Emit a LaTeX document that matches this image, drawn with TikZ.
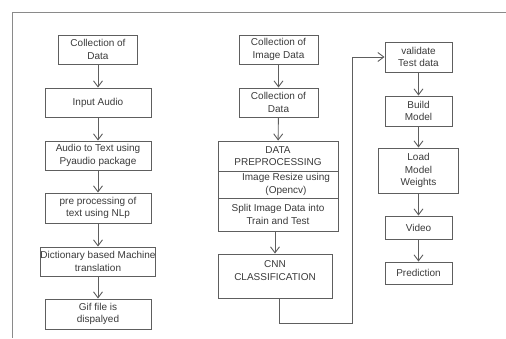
\documentclass[tikz,border=0pt]{standalone}
\usepackage{fontspec}
\setmainfont{Liberation Sans}
\usetikzlibrary{arrows.meta}
\definecolor{linec}{HTML}{5E5E5E}
\definecolor{framec}{HTML}{8A8A8A}
\definecolor{textc}{HTML}{3A3A3A}
\tikzset{
  box/.style={draw=linec, line width=0.9pt, inner sep=0pt, align=center,
    text=textc, font=\fontsize{10}{12.5}\selectfont},
  txt/.style={inner sep=0pt, align=center, text=textc, font=\fontsize{10}{12.5}\selectfont},
  arr/.style={draw=linec, line width=0.9pt, -{Straight Barb[length=6pt,width=9pt]}},
  conn/.style={draw=linec, line width=0.9pt}
}
\begin{document}
\begin{tikzpicture}[x=1pt,y=-1pt]
\useasboundingbox (0,0) rectangle (506,338);
% frame
\coordinate (ftr) at (506,12);
\coordinate (ftl) at (12,12);
\coordinate (fbl) at (12,338);
\draw[draw=framec, line width=0.9pt] (ftr) -- (ftl) -- (fbl);
% column 1
\node[box, minimum width=79pt, minimum height=29pt] (c1a) at (98,49.5) {Collection of\\Data};
\node[box, minimum width=106pt, minimum height=29pt] (c1b) at (98,102.5) {Input Audio};
\node[box, minimum width=106pt, minimum height=29pt] (c1c) at (98,155.5) {Audio to Text using\\Pyaudio package};
\node[box, minimum width=106pt, minimum height=30pt] (c1d) at (98,208) {pre processing of\\text using NLp};
\node[box, minimum width=106pt, minimum height=29pt] (c1e) at (98,261.5) {Dictionary based Machine\\translation};
\node[box, minimum width=106pt, minimum height=30pt] (c1f) at (98,314) {Gif file is\\dispalyed};
\draw[arr] (c1a) -- (c1b);
\draw[arr] (c1b) -- (c1c);
\draw[arr] (c1c) -- (c1d);
\draw[arr] (c1d) -- (c1e);
\draw[arr] (c1e) -- (c1f);
% column 2
\node[box, minimum width=79pt, minimum height=29pt] (c2a) at (278.5,49.5) {Collection of\\Image Data};
\node[box, minimum width=79pt, minimum height=29pt] (c2b) at (278.5,102.5) {Collection of\\Data};
\node[box, minimum width=120pt, minimum height=30pt] (pre) at (278,156) {DATA\\PREPROCESSING};
\node[box, minimum width=120pt, minimum height=27pt] (res) at (278,184.5) {};
\node[txt] (rest) at (286,184.5) {Image Resize using\\(Opencv)};
\node[box, minimum width=120pt, minimum height=33pt] (spl) at (278,214.5) {Split Image Data into\\Train and Test};
\node[box, minimum width=114pt, minimum height=44pt] (cnn) at (275,276) {};
\node[txt] (cnnt) at (275,270.5) {CNN\\CLASSIFICATION};
\draw[arr] (c2a) -- (c2b);
\draw[arr] (c2b) -- (pre);
\draw[arr] (spl.south -| cnn.north) -- (cnn.north);
% column 3
\node[box, minimum width=67pt, minimum height=30pt] (val) at (418.5,57) {validate\\Test data};
\node[box, minimum width=67pt, minimum height=30pt] (bld) at (418.5,111) {Build\\Model};
\node[box, minimum width=80pt, minimum height=45pt] (lmw) at (418.5,170.5) {Load\\Model\\Weights};
\node[box, minimum width=67pt, minimum height=23pt] (vid) at (418.5,227.5) {Video};
\node[box, minimum width=67pt, minimum height=22pt] (prd) at (418.5,273) {Prediction};
\draw[arr] (val) -- (bld);
\draw[arr] (bld) -- (lmw);
\draw[arr] (lmw) -- (vid);
\draw[arr] (vid) -- (prd);
% long connector
\coordinate (cc) at (352,323);
\draw[arr] ([xshift=4pt]cnn.south) |- (cc) |- (val.west);
\end{tikzpicture}
\end{document}
